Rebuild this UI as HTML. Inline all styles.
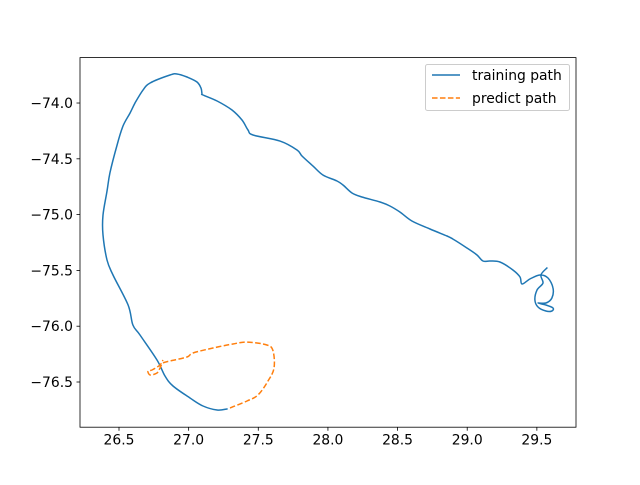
<!DOCTYPE html>
<html><head><meta charset="utf-8"><style>
body{margin:0;background:#fff}
svg text{font-family:"DejaVu Sans","Liberation Sans",sans-serif;font-size:13.9px;fill:#000}
</style></head><body>
<svg id="c" width="640" height="480" xmlns="http://www.w3.org/2000/svg">
<rect x="0" y="0" width="640" height="480" fill="#fff"/>
<g id="plot"></g>
</svg>
<script>
const trainX=[27.275,27.204,27.103,27.010,26.888,26.830,26.773,26.651,26.600,26.565,26.457,26.414,26.385,26.385,26.414,26.435,26.486,26.529,26.579,26.615,26.672,26.723,26.866,26.916,26.988,27.060,27.089,27.096,27.103,27.204,27.311,27.383,27.426,27.462,27.656,27.778,27.814,27.893,27.964,28.065,28.108,28.173,28.244,28.374,28.445,28.517,28.603,28.733,28.855,28.898,28.998,29.070,29.113,29.163,29.235,29.328,29.379,29.393,29.450,29.522,29.580,29.616,29.608,29.565,29.508,29.565,29.616,29.608,29.565,29.508,29.486,29.501,29.544,29.529,29.572];
const trainY=[-76.742,-76.751,-76.715,-76.643,-76.536,-76.446,-76.303,-76.079,-75.989,-75.810,-75.541,-75.407,-75.183,-75.004,-74.789,-74.627,-74.376,-74.206,-74.090,-74.000,-73.884,-73.821,-73.749,-73.740,-73.767,-73.812,-73.866,-73.919,-73.928,-73.982,-74.063,-74.152,-74.242,-74.287,-74.341,-74.421,-74.475,-74.565,-74.645,-74.699,-74.735,-74.806,-74.842,-74.887,-74.923,-74.977,-75.057,-75.129,-75.192,-75.219,-75.299,-75.362,-75.416,-75.416,-75.425,-75.496,-75.559,-75.622,-75.577,-75.541,-75.568,-75.658,-75.747,-75.792,-75.792,-75.810,-75.837,-75.864,-75.864,-75.828,-75.765,-75.676,-75.613,-75.541,-75.478];
const predX=[27.297,27.419,27.498,27.570,27.613,27.606,27.562,27.419,27.318,27.175,27.031,26.988,26.866,26.816,26.794,26.773,26.723,26.708,26.737,26.794,26.816];
const predY=[-76.733,-76.670,-76.616,-76.491,-76.375,-76.222,-76.168,-76.142,-76.159,-76.195,-76.240,-76.276,-76.312,-76.330,-76.375,-76.419,-76.437,-76.401,-76.392,-76.348,-76.303];
const xTicks=[26.5,27.0,27.5,28.0,28.5,29.0,29.5];
const yTicks=[-74.0,-74.5,-75.0,-75.5,-76.0,-76.5];
const L=80,R=576,T=57.6,B=427.2;
const xMin=26.22,xMax=29.781,yMin=-76.905,yMax=-73.593;
const sx=v=>L+(v-xMin)/(xMax-xMin)*(R-L);
const sy=v=>B-(v-yMin)/(yMax-yMin)*(B-T);
const NS="http://www.w3.org/2000/svg";
const g=document.getElementById('plot');
function mk(t,a){const e=document.createElementNS(NS,t);for(const k in a)e.setAttribute(k,a[k]);g.appendChild(e);return e;}
function smooth(X,Y){const P=X.map((x,i)=>[sx(x),sy(Y[i])]);let d='M'+P[0][0].toFixed(1)+','+P[0][1].toFixed(1);
 for(let i=0;i<P.length-1;i++){const p0=P[Math.max(0,i-1)],p1=P[i],p2=P[i+1],p3=P[Math.min(P.length-1,i+2)];
  const c1=[p1[0]+(p2[0]-p0[0])/6,p1[1]+(p2[1]-p0[1])/6],c2=[p2[0]-(p3[0]-p1[0])/6,p2[1]-(p3[1]-p1[1])/6];
  d+=' C'+c1.map(v=>v.toFixed(1)).join(',')+' '+c2.map(v=>v.toFixed(1)).join(',')+' '+p2[0].toFixed(1)+','+p2[1].toFixed(1);}
 return d;}
let e=mk('path',{d:smooth(trainX,trainY),fill:'none',stroke:'#1f77b4','stroke-width':1.5,'stroke-linejoin':'round','stroke-linecap':'square'});


e=mk('path',{d:smooth(predX,predY),fill:'none',stroke:'#ff7f0e','stroke-width':1.5,'stroke-dasharray':'5.55,2.4','stroke-linejoin':'round'});


e=mk('rect',{x:L,y:T,width:R-L,height:B-T,fill:'none',stroke:'#000','stroke-width':0.8});


xTicks.forEach(v=>{const x=sx(v);
 let t=mk('line',{x1:x,x2:x,y1:B,y2:B+3.5,stroke:'#000','stroke-width':0.8});
 
 
 let l=mk('text',{x:x,y:B+17.5,'text-anchor':'middle'});l.textContent=v.toFixed(1);
 
 });
yTicks.forEach(v=>{const y=sy(v);
 let t=mk('line',{x1:L-3.5,x2:L,y1:y,y2:y,stroke:'#000','stroke-width':0.8});
 
 
 let l=mk('text',{x:L-7,y:y+5,'text-anchor':'end'});l.textContent='\u2212'+Math.abs(v).toFixed(1);
 
 });
e=mk('rect',{x:425.5,y:64.5,width:144,height:46,rx:2,fill:'#fff','fill-opacity':0.8,stroke:'#ccc','stroke-width':1});


e=mk('line',{x1:432,x2:460,y1:75,y2:75,stroke:'#1f77b4','stroke-width':1.5});


e=mk('text',{x:472,y:80});e.textContent='training path';


e=mk('line',{x1:432,x2:460,y1:98,y2:98,stroke:'#ff7f0e','stroke-width':1.5,'stroke-dasharray':'5.55,2.4'});


e=mk('text',{x:472,y:103});e.textContent='predict path';


</script>
</body></html>
